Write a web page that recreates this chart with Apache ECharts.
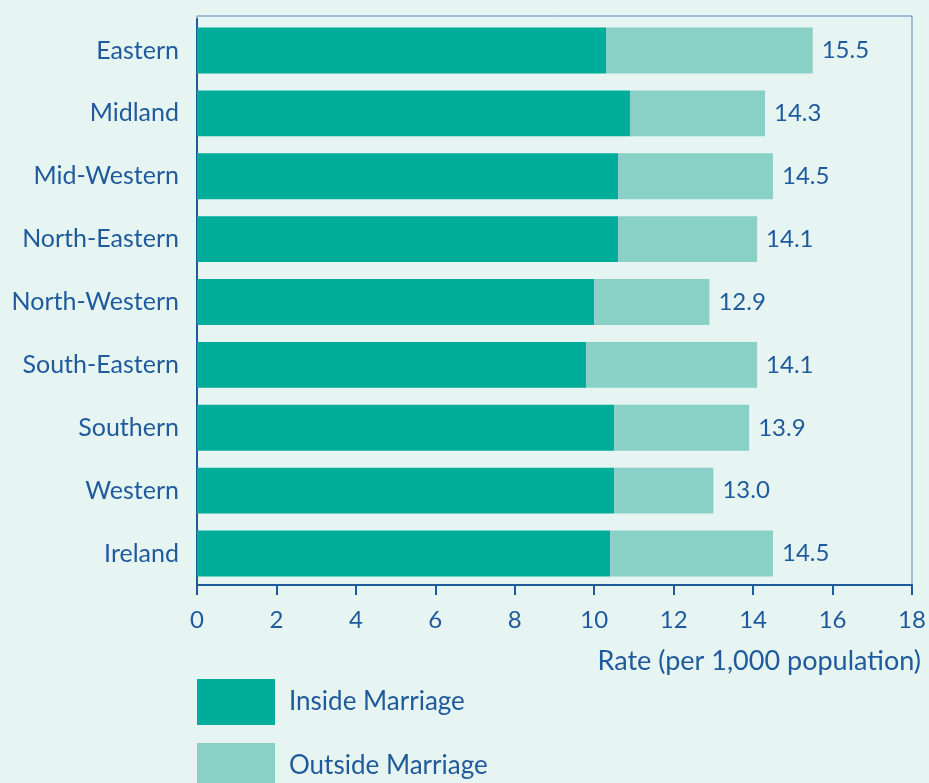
<!DOCTYPE html>
<html>
<head>
<meta charset="utf-8">
<script src="https://cdn.jsdelivr.net/npm/echarts@6/dist/echarts.min.js"></script>
<style>
  html, body { margin: 0; padding: 0; background: #e6f4f2; }
  #chart { width: 929px; height: 783px; }
</style>
</head>
<body>
<div id="chart"></div>
<script>
const regions = ['Eastern', 'Midland', 'Mid-Western', 'North-Eastern', 'North-Western', 'South-Eastern', 'Southern', 'Western', 'Ireland'];
const insideMarriage = [10.3, 10.9, 10.6, 10.6, 10.0, 9.8, 10.5, 10.5, 10.4];
const outsideMarriage = [5.2, 3.4, 3.9, 3.5, 2.9, 4.3, 3.4, 2.5, 4.1];
const totals = ['15.5', '14.3', '14.5', '14.1', '12.9', '14.1', '13.9', '13.0', '14.5'];

const textColor = '#1f5a9c';
const fontName = 'Lato, "Open Sans", sans-serif';

function legendFor(name, top) {
    return {
        orient: 'vertical',
        left: 197, top: top,
        padding: 0,
        itemWidth: 78, itemHeight: 46,
        icon: 'rect',
        textStyle: { color: textColor, fontSize: 26, fontFamily: fontName, padding: [4, 0, 0, 9] },
        data: [name]
    };
}

const chart = echarts.init(document.getElementById('chart'));
chart.setOption({
    backgroundColor: '#e6f4f2',
    animation: false,
    grid: { left: 197, right: 17, top: 19, bottom: 198 },
    // plot frame (thin top/right border)
    graphic: [{
        type: 'rect',
        shape: { x: 197, y: 16, width: 715, height: 569 },
        style: { fill: 'none', stroke: '#5a82b8', lineWidth: 1 },
        silent: true
    }],
    legend: [legendFor('Inside Marriage', 679), legendFor('Outside Marriage', 743)],
    xAxis: {
        type: 'value',
        min: 0, max: 18, interval: 2,
        name: 'Rate (per 1,000 population)',
        nameLocation: 'end',
        nameGap: 0,
        nameTextStyle: {
            color: textColor, fontSize: 27, fontFamily: fontName,
            align: 'right', verticalAlign: 'top', padding: [63, -9, 0, 0]
        },
        axisLine: { show: true, lineStyle: { color: '#1f5a9c', width: 2 } },
        axisTick: { show: true, length: 10, lineStyle: { color: '#1f5a9c', width: 2 } },
        axisLabel: { color: textColor, fontSize: 24, fontFamily: fontName, margin: 23 },
        splitLine: { show: false }
    },
    yAxis: {
        type: 'category',
        inverse: true,
        data: regions,
        axisLine: { show: true, lineStyle: { color: '#1f5a9c', width: 2 } },
        axisTick: { show: false },
        axisLabel: { color: textColor, fontSize: 25, fontFamily: fontName, margin: 18 }
    },
    series: [
        {
            name: 'Inside Marriage',
            type: 'bar',
            stack: 'rate',
            barCategoryGap: '27%',
            itemStyle: { color: '#00ad9a' },
            data: insideMarriage
        },
        {
            name: 'Outside Marriage',
            type: 'bar',
            stack: 'rate',
            itemStyle: { color: '#89d0c7' },
            label: {
                show: true,
                position: 'right',
                distance: 9,
                color: textColor,
                fontSize: 24,
                fontFamily: fontName,
                formatter: p => totals[p.dataIndex]
            },
            data: outsideMarriage
        }
    ]
});
</script>
</body>
</html>
